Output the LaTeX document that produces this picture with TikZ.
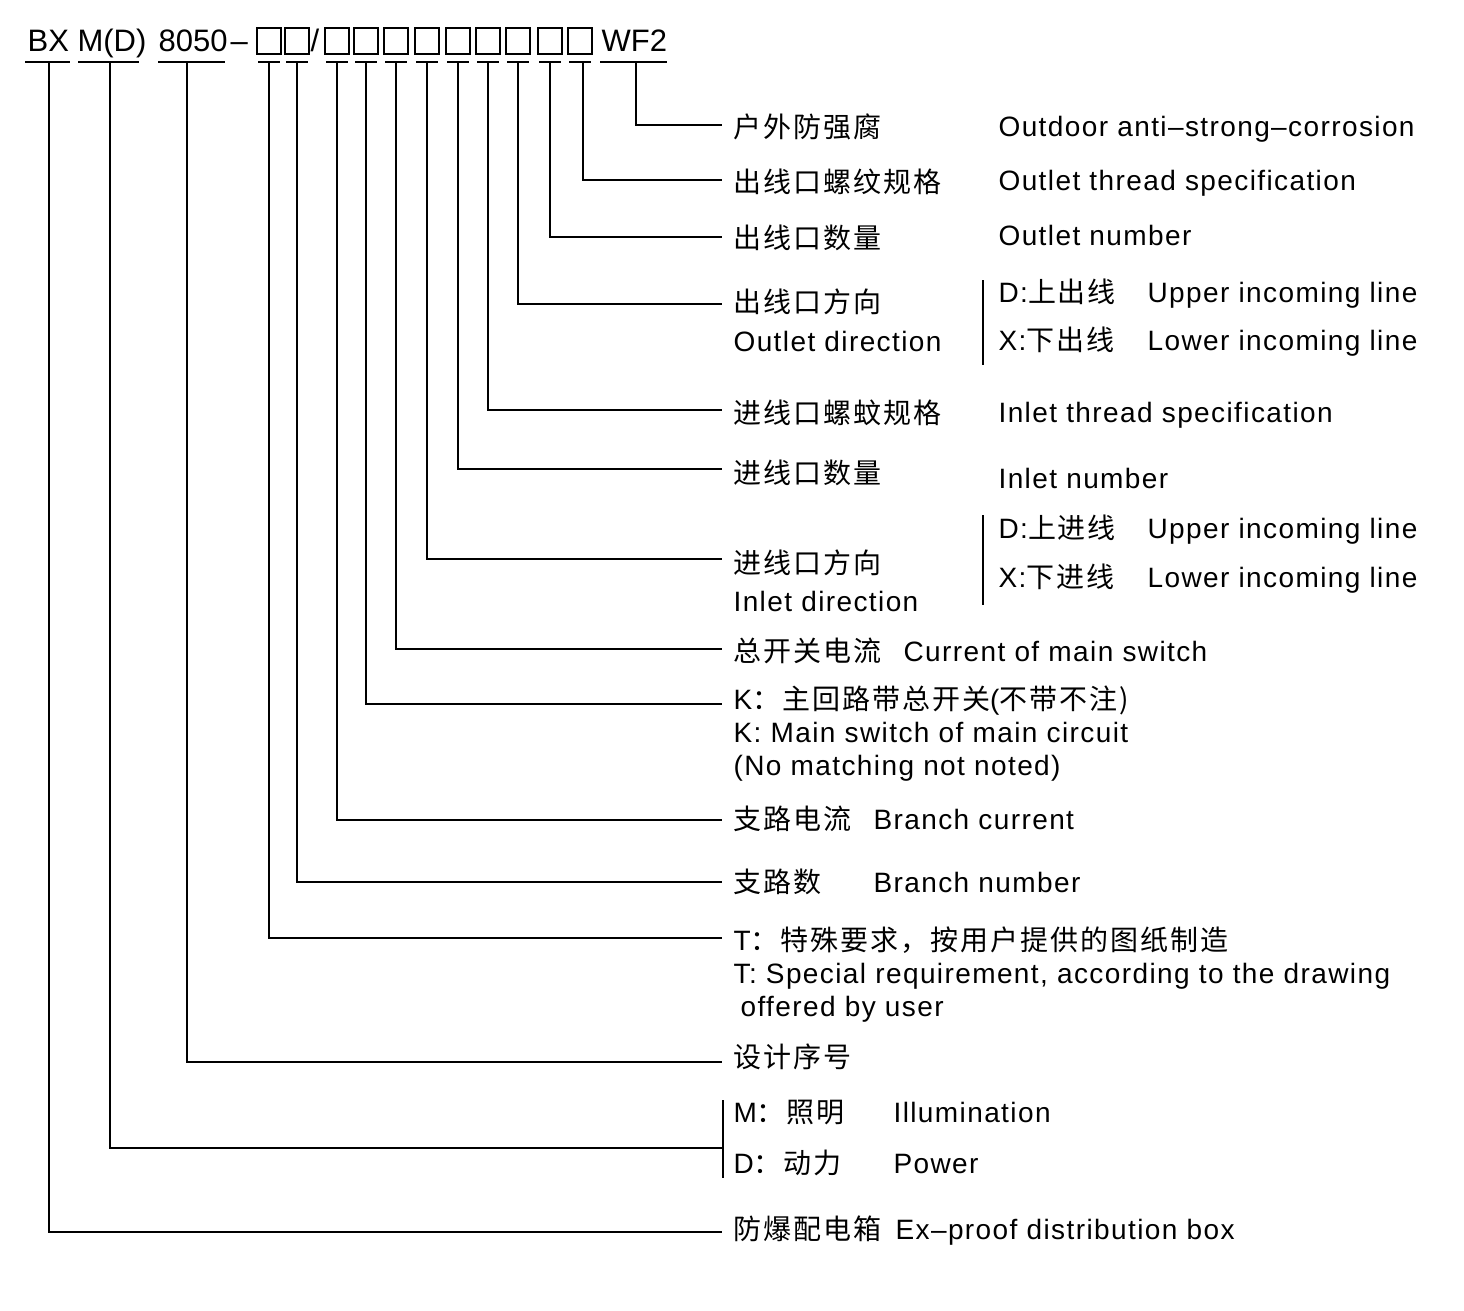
\documentclass[tikz,border=0pt]{standalone}
\usepackage{fontspec}
\setmainfont[LetterSpace=5]{Liberation Sans}
\newfontfamily\hfont[LetterSpace=0]{Liberation Sans}
\newfontfamily\cjk[LetterSpace=7]{Noto Sans CJK SC}
\begin{document}
\begin{tikzpicture}[x=1pt,y=-1pt,line width=1.2pt,
  t/.style={anchor=base west,inner sep=0pt,font=\fontsize{28}{30}\selectfont,yshift=-10pt},
  h/.style={anchor=base west,inner sep=0pt,font=\hfont\fontsize{31}{34}\selectfont,yshift=-11pt},
  bx/.style={draw,line width=1.2pt,minimum width=24pt,minimum height=26pt,inner sep=0pt}]
\useasboundingbox (0,0) rectangle (1464,1310);
% header
\node[h] (hbx) at (27,40) {BX};
\node[h] (hmd) at (77,40) {M(D)};
\node[h] (h80) at (158,40) {8050};
\node[h] (hdash) at (230,40) {–};
\foreach \x/\n in {269/b1,297/b2,337/b3,366/b4,396/b5,427/b6,458/b7,488/b8,518/b9,550/b10,580/b11}{
  \node[bx] (\n) at (\x,41) {};
  \draw (\x-11,62) -- (\x+11,62);
}
\node[h] (hsl) at (310,40) {/};
\node[h] (hwf) at (601,40) {WF2};
\draw (25,62) -- (70,62);
\draw (78,62) -- (139,62);
\draw (158,62) -- (225,62);
\draw (600,62) -- (667,62);
% leaders
\foreach \x/\y/\n in {636/125/l1,583/180/l2,550/237/l3,518/304/l4,488/410/l5,458/469/l6,427/559/l7,396/649/l8,366/704/l9,337/820/l10,297/882/l11,269/938/l12,187/1062/l13,110/1148/l14,49/1232/l15}{
  \coordinate (\n s) at (\x,62);
  \coordinate (\n e) at (722,\y);
  \draw (\n s) |- (\n e);
}
% brackets
\draw (983,280) -- (983,365);
\draw (983,515) -- (983,605);
\draw (723,1100) -- (723,1178);
% labels
\node[t] (a1) at (733,127) {\cjk 户外防强腐};
\node[t] (e1) at (998,126) {Outdoor anti–strong–corrosion};
\node[t] (a2) at (733,182) {\cjk 出线口螺纹规格};
\node[t] (e2) at (998,180) {Outlet thread specification};
\node[t] (a3) at (733,238) {\cjk 出线口数量};
\node[t] (e3) at (998,235) {Outlet number};
\node[t] (a4) at (733,302) {\cjk 出线口方向};
\node[t] (a4b) at (733,341) {Outlet direction};
\node[t] (d1) at (998,292) {D:{\cjk 上出线}};
\node[t] (d1e) at (1147,292) {Upper incoming line};
\node[t] (x1) at (998,340) {X:{\cjk 下出线}};
\node[t] (x1e) at (1147,340) {Lower incoming line};
\node[t] (a5) at (733,413) {\cjk 进线口螺蚊规格};
\node[t] (e5) at (998,412) {Inlet thread specification};
\node[t] (a6) at (733,473) {\cjk 进线口数量};
\node[t] (e6) at (998,478) {Inlet number};
\node[t] (a7) at (733,563) {\cjk 进线口方向};
\node[t] (a7b) at (733,601) {Inlet direction};
\node[t] (d2) at (998,528) {D:{\cjk 上进线}};
\node[t] (d2e) at (1147,528) {Upper incoming line};
\node[t] (x2) at (998,577) {X:{\cjk 下进线}};
\node[t] (x2e) at (1147,577) {Lower incoming line};
\node[t] (a8) at (733,651) {\cjk 总开关电流};
\node[t] (e8) at (903,651) {Current of main switch};
\node[t] (a9) at (733,699) {K{\cjk ：主回路带总开关}(\cjk 不带不注)};
\node[t] (a9b) at (733,732) {K: Main switch of main circuit};
\node[t] (a9c) at (733,765) {(No matching not noted)};
\node[t] (a10) at (733,819) {\cjk 支路电流};
\node[t] (e10) at (873,819) {Branch current};
\node[t] (a11) at (733,882) {\cjk 支路数};
\node[t] (e11) at (873,882) {Branch number};
\node[t] (a12) at (733,940) {T{\cjk ：特殊要求，按用户提供的图纸制造}};
\node[t] (a12b) at (733,973) {T: Special requirement, according to the drawing};
\node[t] (a12c) at (740,1006) {offered by user};
\node[t] (a13) at (733,1057) {\cjk 设计序号};
\node[t] (a14) at (733,1112) {M{\cjk ：照明}};
\node[t] (e14) at (893,1112) {Illumination};
\node[t] (a15) at (733,1163) {D{\cjk ：动力}};
\node[t] (e15) at (893,1163) {Power};
\node[t] (a16) at (733,1229) {\cjk 防爆配电箱};
\node[t] (e16) at (895,1229) {Ex–proof distribution box};
\end{tikzpicture}
\end{document}
